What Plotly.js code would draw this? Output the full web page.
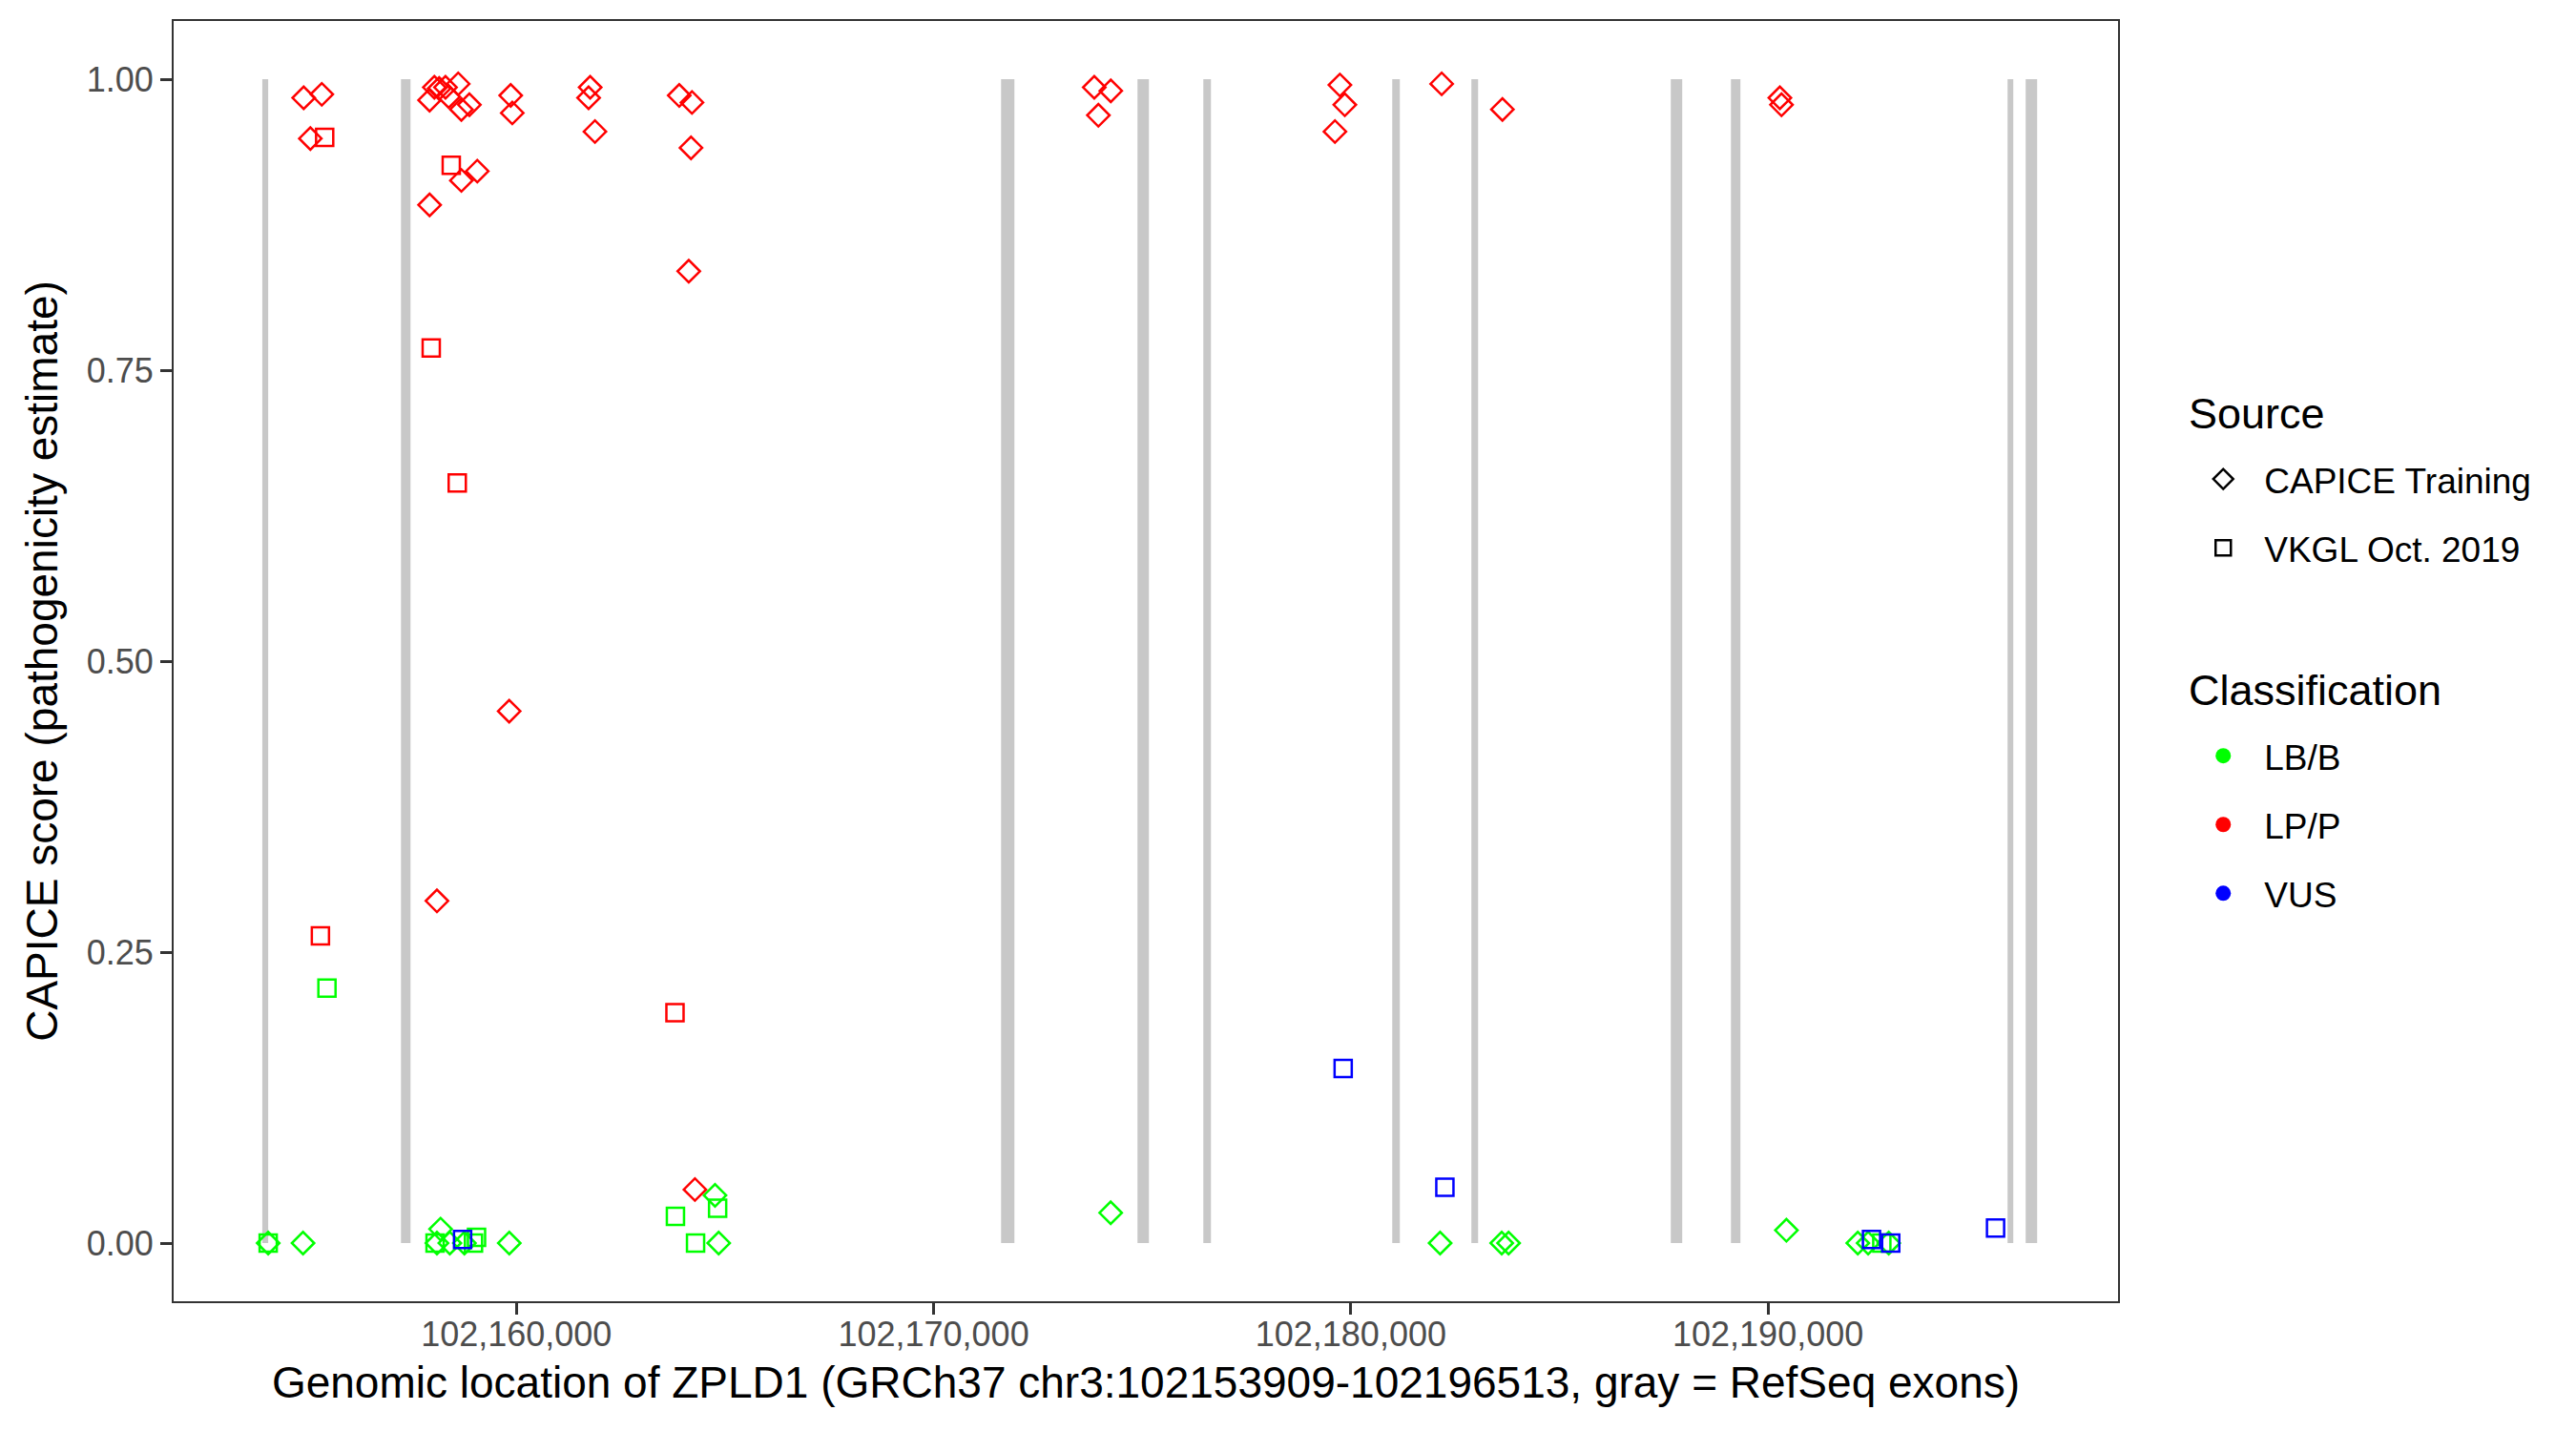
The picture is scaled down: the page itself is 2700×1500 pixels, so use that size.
<!DOCTYPE html>
<html><head><meta charset="utf-8">
<script src="https://cdn.plot.ly/plotly-3.0.1.min.js"></script>
<style>html,body{margin:0;padding:0;background:#fff}</style>
</head><body><div id="chart" style="width:2700px;height:1500px"></div>
<script>
// RefSeq exons (genomic start/end)
const exonStart = [102153909, 102157233, 102171617, 102174887, 102176465, 102180993, 102182890, 102187670, 102189111, 102195742, 102196176];
const exonEnd   = [102154050, 102157462, 102171937, 102175161, 102176648, 102181175, 102183051, 102187944, 102189339, 102195879, 102196451];

// CAPICE Training (diamonds)
const capiceLPx = [102154901, 102155335, 102155061, 102158033, 102158148, 102158300, 102158605, 102157919, 102158376, 102158681, 102158872, 102159863, 102159901, 102161768, 102161730, 102161883, 102163903, 102164208, 102164185, 102164131, 102157919, 102158681, 102159062, 102159827, 102158095, 102164279, 102173851, 102174247, 102173949, 102179738, 102179856, 102179620, 102182178, 102183634, 102190284, 102190323];
const capiceLPy = [0.984, 0.987, 0.949, 0.993, 0.992, 0.993, 0.996, 0.982, 0.985, 0.974, 0.978, 0.986, 0.971, 0.993, 0.984, 0.955, 0.986, 0.980, 0.941, 0.835, 0.892, 0.913, 0.921, 0.457, 0.294, 0.046, 0.993, 0.990, 0.969, 0.995, 0.978, 0.955, 0.996, 0.974, 0.984, 0.978];
const capiceLBx = [102154050, 102154885, 102158182, 102158095, 102158404, 102158753, 102159829, 102164761, 102164848, 102174244, 102182140, 102183617, 102183782, 102190441, 102192152, 102192400, 102192893];
const capiceLBy = [0, 0, 0.012, 0, 0, 0, 0, 0.041, 0, 0.026, 0, 0, 0, 0.011, 0, 0, 0];

// VKGL Oct. 2019 (squares)
const vkglLPx = [102155404, 102155302, 102158438, 102157958, 102158582, 102163801];
const vkglLPy = [0.950, 0.264, 0.926, 0.769, 0.653, 0.198];
const vkglLBx = [102155459, 102154050, 102158050, 102159044, 102158971, 102164823, 102163812, 102164294, 102192728];
const vkglLBy = [0.219, 0, 0, 0.005, 0, 0.030, 0.023, 0, 0];
const vkglVUSx = [102158710, 102179817, 102182255, 102192481, 102192941, 102195454];
const vkglVUSy = [0.003, 0.150, 0.048, 0.003, 0, 0.013];

const xTicks = [102160000, 102170000, 102180000, 102190000];
const yTicks = [0, 0.25, 0.5, 0.75, 1];
const yTickText = ['0.00', '0.25', '0.50', '0.75', '1.00'];

const sourceNames = ['CAPICE Training', 'VKGL Oct. 2019'];
const classNames = ['LB/B', 'LP/P', 'VUS'];
const classColors = ['#00FF00', '#FF0000', '#0000FF'];

const FONT = 'Liberation Sans, Arial, Helvetica, sans-serif';

function pts(x, y, symbol, color) {
  return {type: 'scatter', mode: 'markers', x: x, y: y, showlegend: false, hoverinfo: 'skip',
    marker: {symbol: symbol, color: color, size: 18, line: {width: 2.5, color: color}}};
}

const traces = [
  pts(capiceLBx, capiceLBy, 'diamond-open', classColors[0]),
  pts(vkglLBx, vkglLBy, 'square-open', classColors[0]),
  pts(capiceLPx, capiceLPy, 'diamond-open', classColors[1]),
  pts(vkglLPx, vkglLPy, 'square-open', classColors[1]),
  pts(vkglVUSx, vkglVUSy, 'square-open', classColors[2])
];

// legend entries
['diamond-open', 'square-open'].forEach((sym, i) => {
  traces.push({type: 'scatter', mode: 'markers', x: [null], y: [null], name: sourceNames[i],
    legend: 'legend', legendgroup: 's' + i, showlegend: true,
    marker: {symbol: sym, color: '#000000', size: 16, line: {width: 2.5, color: '#000000'}}});
});
classNames.forEach((c, i) => {
  traces.push({type: 'scatter', mode: 'markers', x: [null], y: [null], name: c,
    legend: 'legend2', legendgroup: 'c' + i, showlegend: true,
    marker: {symbol: 'circle', color: classColors[i], size: 17}});
});

const shapes = exonStart.map((s, i) => ({
  type: 'rect', xref: 'x', yref: 'y', x0: s, x1: exonEnd[i], y0: 0, y1: 1,
  fillcolor: '#C8C8C8', line: {width: 0}, layer: 'below'
}));

const legendCommon = {
  xref: 'paper', yref: 'paper', xanchor: 'left', yanchor: 'top',
  font: {family: FONT, size: 37, color: '#000000'},
  bgcolor: 'rgba(0,0,0,0)', borderwidth: 0,
  traceorder: 'grouped', tracegroupgap: 21, itemwidth: 76, itemclick: false, itemdoubleclick: false
};

const layout = {
  width: 2700, height: 1500,
  paper_bgcolor: '#FFFFFF', plot_bgcolor: '#FFFFFF',
  margin: {l: 182, r: 480, t: 22, b: 136, pad: 0},
  font: {family: FONT, color: '#000000'},
  showlegend: true,
  xaxis: {
    range: [102151784, 102198390], tickvals: xTicks, tickformat: ',d',
    showgrid: false, zeroline: false, showline: true, mirror: true, linecolor: '#333333', linewidth: 2,
    ticks: 'outside', ticklen: 12, tickwidth: 3, tickcolor: '#333333',
    tickfont: {family: FONT, size: 36, color: '#4D4D4D'}, ticklabelstandoff: -10,
    title: {text: 'Genomic location of ZPLD1 (GRCh37 chr3:102153909-102196513, gray = RefSeq exons)',
      font: {family: FONT, size: 46, color: '#000000'}, standoff: 15},
    automargin: false
  },
  yaxis: {
    range: [-0.05, 1.05], tickvals: yTicks, ticktext: yTickText,
    showgrid: false, zeroline: false, showline: true, mirror: true, linecolor: '#333333', linewidth: 2,
    ticks: 'outside', ticklen: 12, tickwidth: 3, tickcolor: '#333333',
    tickfont: {family: FONT, size: 36, color: '#4D4D4D'},
    title: {text: 'CAPICE score (pathogenicity estimate)', font: {family: FONT, size: 46, color: '#000000'}, standoff: 16},
    automargin: false
  },
  legend: Object.assign({}, legendCommon, {x: 1.033, y: 0.665}),
  legend2: Object.assign({}, legendCommon, {x: 1.033, y: 0.4489}),
  annotations: [
    {text: 'Source', xref: 'paper', yref: 'paper', x: 1.0351, y: 0.693, xanchor: 'left', yanchor: 'middle',
      showarrow: false, font: {family: FONT, size: 45, color: '#000000'}},
    {text: 'Classification', xref: 'paper', yref: 'paper', x: 1.0351, y: 0.4776, xanchor: 'left', yanchor: 'middle',
      showarrow: false, font: {family: FONT, size: 45, color: '#000000'}}
  ],
  shapes: shapes
};

Plotly.newPlot('chart', traces, layout, {staticPlot: true, displayModeBar: false});
</script></body></html>
